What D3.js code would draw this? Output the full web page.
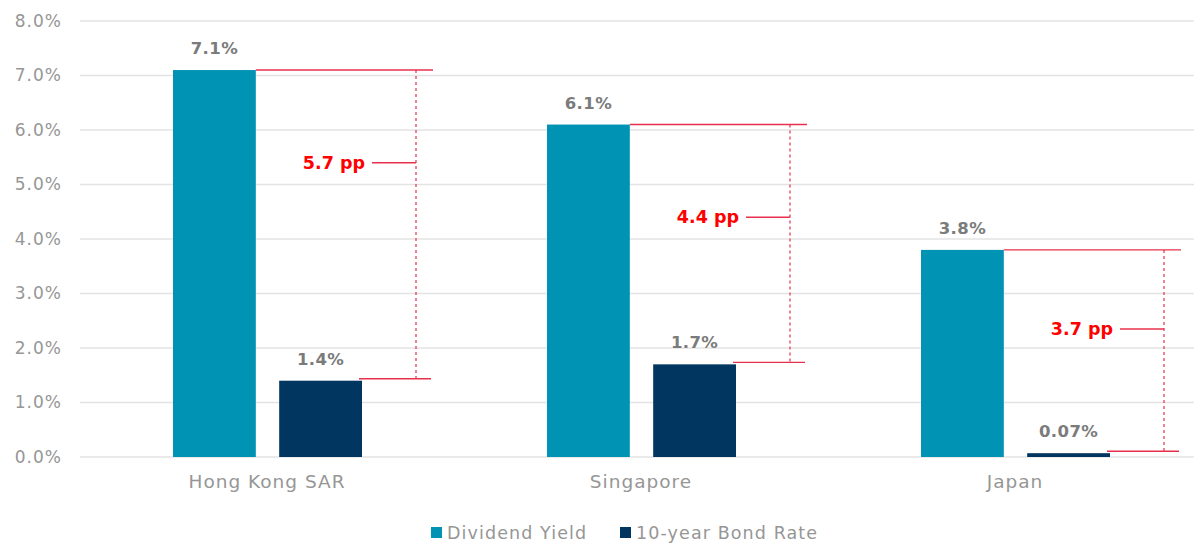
<!DOCTYPE html>
<html>
<head>
<meta charset="utf-8">
<script src="https://cdn.jsdelivr.net/npm/d3@7"></script>
<style>
  html, body { margin: 0; padding: 0; background: #fff; }
  svg { display: block; font-family: "DejaVu Sans", sans-serif; }
</style>
</head>
<body>
<svg id="chart" width="1194" height="544"></svg>
<script>
// Markets compared
const categories = ["Hong Kong SAR", "Singapore", "Japan"];
// Series values (%)
const dividendYield = [7.1, 6.1, 3.8];
const bondRate = [1.4, 1.7, 0.07];
// Value labels as printed
const dividendLabels = ["7.1%", "6.1%", "3.8%"];
const bondLabels = ["1.4%", "1.7%", "0.07%"];
// Spread annotations (percentage points) and the level each label sits at
const spreadLabels = ["5.7 pp", "4.4 pp", "3.7 pp"];
const spreadLabelLevel = [5.4, 4.4, 2.35];
// Axis ticks
const yTicks = [0, 1, 2, 3, 4, 5, 6, 7, 8];
const seriesNames = ["Dividend Yield", "10-year Bond Rate"];

const colors = { dividend: "#0093b4", bond: "#00365f", red: "#e8304c", grid: "#e3e3e3", text: "#969696", value: "#7b7b7b" };

const svg = d3.select("#chart");
const margin = { left: 80, right: -8, top: 21, bottom: 87 };
const W = 1194, H = 544;

const x = d3.scaleBand().domain(categories).range([margin.left, W - margin.right]).padding(0);
const y = d3.scaleLinear().domain([0, 8]).range([H - margin.bottom, margin.top]);

// inner band for the two bars of each market
const x1 = d3.scaleBand().domain(["dividend", "bond"]).range([93, 282]).paddingInner(0.22);

// gridlines
svg.append("g").selectAll("line").data(yTicks).join("line")
  .attr("x1", margin.left).attr("x2", W)
  .attr("y1", d => y(d)).attr("y2", d => y(d))
  .attr("stroke", colors.grid).attr("stroke-width", 1.6);

// y axis labels
const yAxis = d3.axisLeft(y).tickValues(yTicks).tickFormat(d => d3.format(".1f")(d) + "%").tickSize(0).tickPadding(18);
const yg = svg.append("g").attr("transform", `translate(${margin.left},0)`).call(yAxis);
yg.select(".domain").remove();
yg.selectAll("text").attr("fill", colors.text).attr("font-size", 17)
  .attr("letter-spacing", 1).attr("font-family", "DejaVu Sans, sans-serif");

// x axis labels
const xAxis = d3.axisBottom(x).tickSize(0).tickPadding(18);
const xg = svg.append("g").attr("transform", `translate(0,${y(0)})`).call(xAxis);
xg.select(".domain").remove();
xg.selectAll("text").attr("fill", colors.text).attr("font-size", 18.5)
  .attr("letter-spacing", 1).attr("font-family", "DejaVu Sans, sans-serif");

const rows = categories.map((c, i) => ({
  cat: c, div: dividendYield[i], bond: bondRate[i],
  divLabel: dividendLabels[i], bondLabel: bondLabels[i],
  spread: spreadLabels[i], level: spreadLabelLevel[i]
}));

const groups = svg.append("g").selectAll("g").data(rows).join("g")
  .attr("transform", d => `translate(${x(d.cat)},0)`);

// bars
groups.append("rect")
  .attr("x", x1("dividend")).attr("width", x1.bandwidth())
  .attr("y", d => y(d.div)).attr("height", d => y(0) - y(d.div))
  .attr("fill", colors.dividend);
groups.append("rect")
  .attr("x", x1("bond")).attr("width", x1.bandwidth())
  .attr("y", d => y(d.bond)).attr("height", d => y(0) - y(d.bond))
  .attr("fill", colors.bond);

// value labels
groups.append("text")
  .attr("x", x1("dividend") + x1.bandwidth() / 2).attr("y", d => y(d.div) - 16)
  .attr("text-anchor", "middle").attr("font-size", 16.5).attr("font-weight", "bold")
  .attr("letter-spacing", 0.4).attr("fill", colors.value).text(d => d.divLabel);
groups.append("text")
  .attr("x", x1("bond") + x1.bandwidth() / 2).attr("y", d => y(d.bond) - 16)
  .attr("text-anchor", "middle").attr("font-size", 16.5).attr("font-weight", "bold")
  .attr("letter-spacing", 0.4).attr("fill", colors.value).text(d => d.bondLabel);

// spread brackets
const bracketX = 336, bracketEnd = 353;
groups.append("line")
  .attr("x1", x1("dividend") + x1.bandwidth()).attr("x2", bracketEnd)
  .attr("y1", d => y(d.div)).attr("y2", d => y(d.div))
  .attr("stroke", colors.red).attr("stroke-width", 1.4);
groups.append("line")
  .attr("x1", x1("bond") + x1.bandwidth() - 3).attr("x2", bracketEnd - 2)
  .attr("y1", d => y(d.bond) - 2).attr("y2", d => y(d.bond) - 2)
  .attr("stroke", colors.red).attr("stroke-width", 1.4);
groups.append("line")
  .attr("x1", bracketX).attr("x2", bracketX)
  .attr("y1", d => y(d.div)).attr("y2", d => y(d.bond) - 2)
  .attr("stroke", colors.red).attr("stroke-width", 1.2).attr("stroke-dasharray", "3,3");
groups.append("line")
  .attr("x1", bracketX - 44).attr("x2", bracketX)
  .attr("y1", d => y(d.level)).attr("y2", d => y(d.level))
  .attr("stroke", colors.red).attr("stroke-width", 1.4);
groups.append("text")
  .attr("x", bracketX - 51).attr("y", d => y(d.level)).attr("dy", "0.35em")
  .attr("text-anchor", "end").attr("font-size", 17.5).attr("font-weight", "bold")
  .attr("fill", "#ff0000").text(d => d.spread);

// legend
const legend = svg.append("g").attr("transform", "translate(431,527)");
const legendX = [0, 189];
const legendColors = [colors.dividend, colors.bond];
seriesNames.forEach((name, i) => {
  const g = legend.append("g").attr("transform", `translate(${legendX[i]},0)`);
  g.append("rect").attr("width", 11).attr("height", 11).attr("fill", legendColors[i]);
  g.append("text").attr("x", 16).attr("y", 5.5).attr("dy", "0.36em")
    .attr("font-size", 17.5).attr("letter-spacing", 1.1).attr("fill", colors.text).text(name);
});
</script>
</body>
</html>
